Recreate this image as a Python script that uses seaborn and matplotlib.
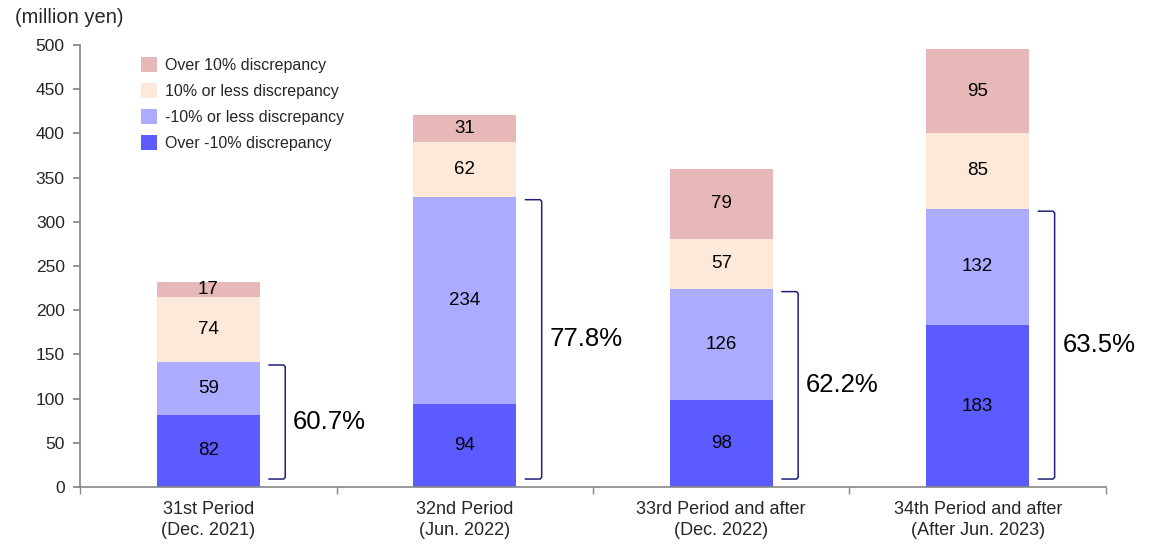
import numpy as np
import pandas as pd
import matplotlib
matplotlib.use("Agg")
import matplotlib.pyplot as plt
from matplotlib.patches import Patch
import seaborn as sns

# Appraisal discrepancy breakdown by fiscal period (million yen)
periods = ["31st Period\n(Dec. 2021)", "32nd Period\n(Jun. 2022)",
           "33rd Period and after\n(Dec. 2022)", "34th Period and after\n(After Jun. 2023)"]
over_minus10 = [82, 94, 98, 183]
minus10_or_less = [59, 234, 126, 132]
ten_or_less = [74, 62, 57, 85]
over_10 = [17, 31, 79, 95]
share_labels = ["60.7%", "77.8%", "62.2%", "63.5%"]

layer_names = ["Over -10% discrepancy", "-10% or less discrepancy",
               "10% or less discrepancy", "Over 10% discrepancy"]
layer_values = [over_minus10, minus10_or_less, ten_or_less, over_10]
layer_colors = ["#5B5BFF", "#ABABFF", "#FDE9D9", "#E6B8B7"]

sns.set_theme(style="white")
plt.rcParams["font.family"] = ["Liberation Sans", "DejaVu Sans"]

fig = plt.figure(figsize=(11.65, 5.44), dpi=100)
ax = fig.add_axes([0.0687, 0.1048, 0.8806, 0.8125])

cum = np.cumsum(np.array(layer_values), axis=0)

# Overlay cumulative totals from the top layer down to build the stacks
for i in range(len(layer_names) - 1, -1, -1):
    df = pd.DataFrame({"period": periods, "value": cum[i]})
    sns.barplot(data=df, x="period", y="value", order=periods, color=layer_colors[i],
                saturation=1, width=0.4, ax=ax, errorbar=None, linewidth=0)

# Segment value labels
for i, vals in enumerate(layer_values):
    for j, v in enumerate(vals):
        y = cum[i][j] - v / 2
        ax.text(j, y, f"{v}", ha="center", va="center", fontsize=13.5, color="#000000")

# Brackets around the two negative-discrepancy layers
for j, lab in enumerate(share_labels):
    top = cum[1][j] - 3
    bot = 9
    xv = j + 0.30
    xh = j + 0.236
    ax.plot([xh, xv - 0.006, xv, xv, xv - 0.006, xh],
            [top, top, top - 2, bot + 2, bot, bot],
            color="#1F1F7A", lw=1.1, solid_joinstyle="round")
    ax.text(j + 0.33, (top + bot) / 2, lab, ha="left", va="center", fontsize=18.5,
            color="#000000")

ax.set_ylim(0, 500)
ax.set_xlim(-0.5, 3.5)
ax.set_yticks(np.arange(0, 501, 50))
ax.set_xlabel("")
ax.set_ylabel("")
ax.tick_params(axis="y", labelsize=12.5, length=5, color="#868686", left=True, pad=6)
ax.tick_params(axis="x", which="major", labelsize=13, length=0, pad=10)
for t in ax.get_xticklabels():
    t.set_linespacing(1.35)
ax.set_xticks(np.arange(-0.5, 4.0, 1.0), minor=True)
ax.tick_params(axis="x", which="minor", length=5, color="#868686", bottom=True,
               direction="out")
for side in ["top", "right"]:
    ax.spines[side].set_visible(False)
for side in ["left", "bottom"]:
    ax.spines[side].set_color("#868686")
    ax.spines[side].set_linewidth(1.2)

handles = [Patch(facecolor=layer_colors[i], edgecolor="none", label=layer_names[i])
           for i in range(len(layer_names) - 1, -1, -1)]
ax.legend(handles=handles, loc="upper left", bbox_to_anchor=(0.045, 1.005), frameon=False,
          fontsize=11.5, handlelength=1.05, handleheight=1.1, labelspacing=0.62,
          handletextpad=0.45)

fig.text(0.0125, 0.968, "(million yen)", fontsize=14.5, ha="left", va="center")

fig.savefig("out.png", dpi=100)
